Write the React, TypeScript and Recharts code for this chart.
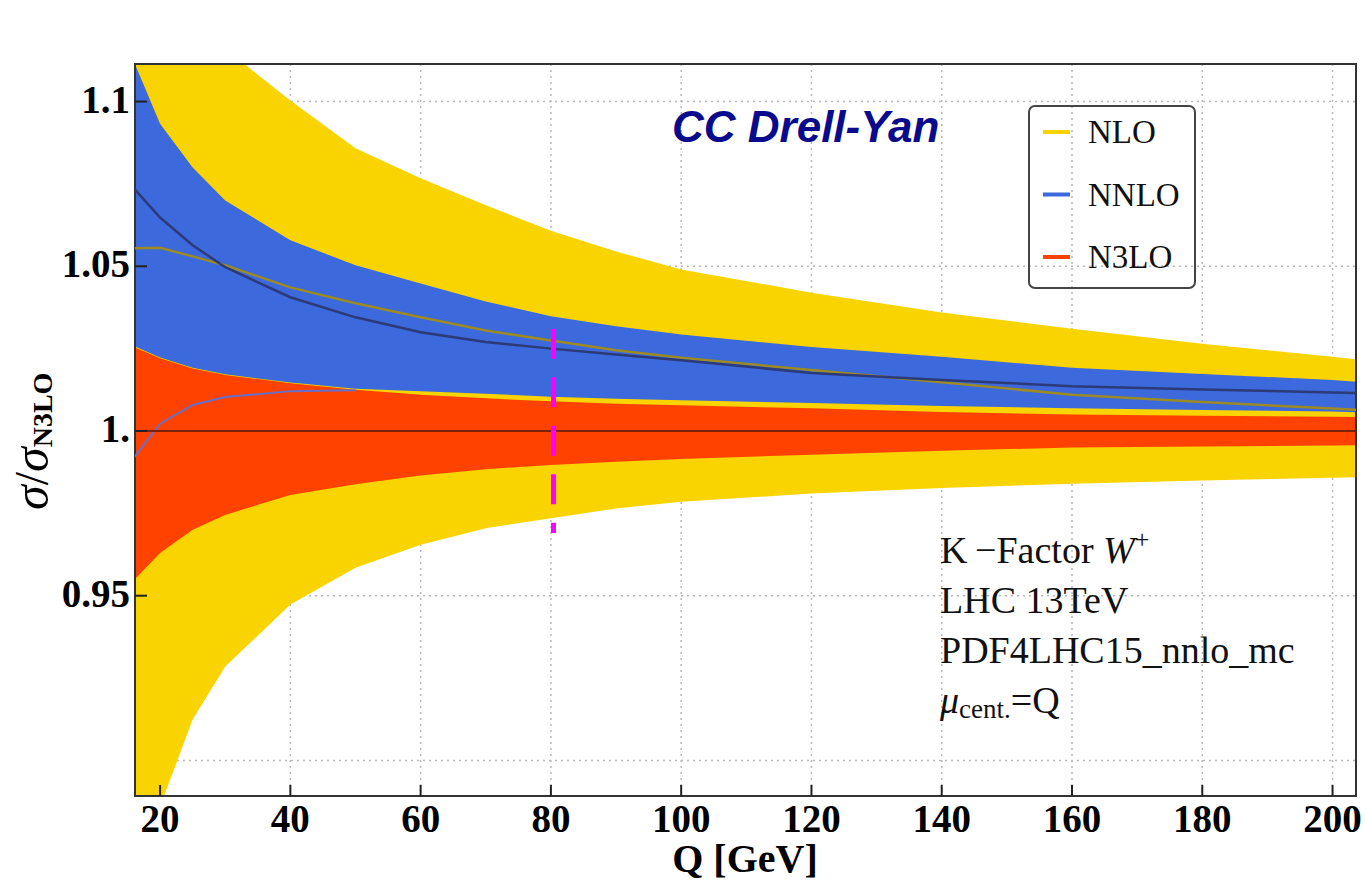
import React from "react";
import {
  Area,
  CartesianGrid,
  ComposedChart,
  Line,
  ReferenceArea,
  ReferenceLine,
  XAxis,
  YAxis,
} from "recharts";

// Q [GeV] sample points
const qValues = [16, 20, 25, 30, 40, 50, 60, 70, 80, 90, 100, 120, 140, 160, 180, 200, 204];

// NLO band (yellow)
const nloHigh = [1.2, 1.165, 1.135, 1.116, 1.1003, 1.0858, 1.0767, 1.0685, 1.0608, 1.0545, 1.049, 1.042, 1.036, 1.031, 1.0265, 1.0225, 1.0217];
const nloLow = [0.86, 0.886, 0.9124, 0.9285, 0.9473, 0.9585, 0.9655, 0.9705, 0.9735, 0.9765, 0.9785, 0.981, 0.9827, 0.984, 0.985, 0.9858, 0.986];
const nloCentral = [1.0555, 1.0556, 1.053, 1.0503, 1.0436, 1.0388, 1.0345, 1.0305, 1.0275, 1.0245, 1.0222, 1.0185, 1.0148, 1.011, 1.0088, 1.0068, 1.0064];

// NNLO band (blue)
const nnloHigh = [1.112, 1.0933, 1.08, 1.07, 1.0579, 1.0503, 1.0448, 1.0393, 1.0348, 1.0318, 1.0293, 1.0255, 1.0225, 1.0192, 1.0173, 1.0155, 1.0149];
const nnloLow = [1.0258, 1.0223, 1.0192, 1.0172, 1.0147, 1.0128, 1.0121, 1.0113, 1.0104, 1.0098, 1.0093, 1.0085, 1.0076, 1.0069, 1.0064, 1.0059, 1.0057];
const nnloCentral = [1.0736, 1.0648, 1.0564, 1.0497, 1.0406, 1.0345, 1.03, 1.027, 1.025, 1.0232, 1.0215, 1.0176, 1.0155, 1.0136, 1.0126, 1.0117, 1.0115];
const nnloEdge = [0.992, 1.0022, 1.0079, 1.0103, 1.0121, 1.0124, null, null, null, null, null, null, null, null, null, null, null];

// N3LO band (red)
const n3loHigh = [1.0255, 1.0221, 1.019, 1.017, 1.0145, 1.0125, 1.011, 1.0099, 1.009, 1.0083, 1.0078, 1.0069, 1.0058, 1.005, 1.0046, 1.0043, 1.0042];
const n3loLow = [0.9548, 0.963, 0.97, 0.9745, 0.9806, 0.9838, 0.9865, 0.9884, 0.9897, 0.9907, 0.9915, 0.9928, 0.994, 0.995, 0.9953, 0.9956, 0.9957];
const n3loCentral = [1, 1, 1, 1, 1, 1, 1, 1, 1, 1, 1, 1, 1, 1, 1, 1, 1];

const xTicks = [20, 40, 60, 80, 100, 120, 140, 160, 180, 200];
const yTicks = [0.9, 0.95, 1, 1.05, 1.1];
const yTickLabels = ["", "0.95", "1.", "1.05", "1.1"];

const xDomain = [16.15, 203.6];
const yDomain = [0.8892, 1.1114];
const wMass = 80.4;
const wLineRange = [1.031, 0.969];

const data = qValues.map((q, i) => ({
  q,
  nlo: [nloLow[i], nloHigh[i]],
  nnlo: [nnloLow[i], nnloHigh[i]],
  n3lo: [n3loLow[i], n3loHigh[i]],
  nloCentral: nloCentral[i],
  nnloCentral: nnloCentral[i],
  nnloEdge: nnloEdge[i],
  n3loCentral: n3loCentral[i],
}));

const serif = "'Liberation Serif', 'Times New Roman', serif";
const sans = "'Liberation Sans', Arial, sans-serif";

const YELLOW = "#fad400";
const BLUE = "#3c69dc";
const RED = "#ff4200";

function XTick({ x, y, payload }: any) {
  return (
    <g>
      <line x1={x} y1={y} x2={x} y2={y - 11} stroke="#222" strokeWidth={2} />
      <text x={x} y={y + 36} textAnchor="middle" fontFamily={serif} fontWeight="bold" fontSize={39} fill="#000">
        {payload.value}
      </text>
    </g>
  );
}

function YTick({ x, y, payload }: any) {
  const idx = yTicks.indexOf(payload.value);
  const label = idx >= 0 ? yTickLabels[idx] : "";
  if (!label) return <g />;
  return (
    <g>
      <line x1={x} y1={y} x2={x + 12} y2={y} stroke="#222" strokeWidth={2} />
      <text x={x - 5} y={y + 11} textAnchor="end" fontFamily={serif} fontWeight="bold" fontSize={39} fill="#000">
        {label}
      </text>
    </g>
  );
}

const legendItems = [
  { name: "NLO", color: YELLOW },
  { name: "NNLO", color: BLUE },
  { name: "N3LO", color: RED },
];

export default function App() {
  return (
    <div style={{ position: "absolute", left: 0, top: 0, width: 1366, height: 888, background: "#fff" }}>
      <ComposedChart width={1366} height={888} data={data} margin={{ top: 64, right: 10, bottom: 0, left: 0 }}>
        <CartesianGrid stroke="#b8b8b8" strokeWidth={1.5} strokeDasharray="2 4" />
        <XAxis
          dataKey="q"
          type="number"
          domain={xDomain}
          allowDataOverflow
          ticks={xTicks}
          height={92}
          tickSize={0}
          tickMargin={0}
          axisLine={false}
          tickLine={false}
          tick={<XTick />}
          interval={0}
        />
        <YAxis
          type="number"
          domain={yDomain}
          allowDataOverflow
          ticks={yTicks}
          width={135}
          tickSize={0}
          tickMargin={0}
          axisLine={false}
          tickLine={false}
          tick={<YTick />}
          interval={0}
        />
        <Area dataKey="nlo" type="linear" fill={YELLOW} fillOpacity={1} stroke="none" isAnimationActive={false} />
        <Area dataKey="nnlo" type="linear" fill={BLUE} fillOpacity={1} stroke="none" isAnimationActive={false} />
        <Area dataKey="n3lo" type="linear" fill={RED} fillOpacity={1} stroke="none" isAnimationActive={false} />
        <Line dataKey="nloCentral" type="linear" stroke="#9c8a24" strokeWidth={2.5} dot={false} isAnimationActive={false} />
        <Line dataKey="nnloCentral" type="linear" stroke="#2c3a78" strokeWidth={2.5} dot={false} isAnimationActive={false} />
        <Line dataKey="nnloEdge" type="linear" stroke="#6670c8" strokeWidth={2} dot={false} isAnimationActive={false} />
        <Line dataKey="n3loCentral" type="linear" stroke="#7a2206" strokeWidth={2} dot={false} isAnimationActive={false} />
        <ReferenceLine
          segment={[
            { x: wMass, y: wLineRange[0] },
            { x: wMass, y: wLineRange[1] },
          ]}
          stroke="#ff00ff"
          strokeWidth={5}
          strokeDasharray="30 18.5"
        />
        <ReferenceArea
          x1={xDomain[0]}
          x2={xDomain[1]}
          y1={yDomain[0]}
          y2={yDomain[1]}
          fill="none"
          fillOpacity={0}
          stroke="#333"
          strokeWidth={2}
        />
      </ComposedChart>

      <svg width={1366} height={888} style={{ position: "absolute", left: 0, top: 0, pointerEvents: "none" }}>
        {/* y axis label */}
        <text transform="translate(48,510) rotate(-90)" fontFamily={serif} fill="#000">
          <tspan fontSize={50} fontStyle="italic">σ</tspan>
          <tspan fontSize={48}>/</tspan>
          <tspan fontSize={50} fontStyle="italic">σ</tspan>
          <tspan fontSize={28} fontWeight="bold" dy={4}>N3LO</tspan>
        </text>

        {/* x axis label */}
        <text x={745} y={872} textAnchor="middle" fontFamily={serif} fontWeight="bold" fontSize={40} fill="#000">
          Q [GeV]
        </text>

        {/* title */}
        <text x={672} y={142} fontFamily={sans} fontWeight="bold" fontStyle="italic" fontSize={44} fill="#0a0a8c">
          CC Drell-Yan
        </text>

        {/* legend */}
        <rect x={1029} y={106} width={166} height={182} rx={6} fill="none" stroke="#444" strokeWidth={2} />
        {legendItems.map((item, i) => {
          const cy = 132 + i * 62.5;
          return (
            <g key={item.name}>
              <line x1={1043} y1={cy} x2={1070} y2={cy} stroke={item.color} strokeWidth={4} />
              <text x={1088} y={cy + 11} fontFamily={serif} fontSize={33} fill="#111">
                {item.name}
              </text>
            </g>
          );
        })}

        {/* annotation */}
        <g fontFamily={serif} fontSize={38} fill="#111">
          <text x={940} y={563}>
            {"K\u2009\u2212Factor "}
            <tspan fontStyle="italic">W</tspan>
            <tspan fontSize={26} dy={-15}>+</tspan>
          </text>
          <text x={940} y={613}>LHC 13TeV</text>
          <text x={940} y={663}>PDF4LHC15_nnlo_mc</text>
          <text x={940} y={713}>
            <tspan fontStyle="italic">μ</tspan>
            <tspan fontSize={27} dy={5}>cent.</tspan>
            <tspan dy={-5}>=Q</tspan>
          </text>
        </g>
      </svg>
    </div>
  );
}
